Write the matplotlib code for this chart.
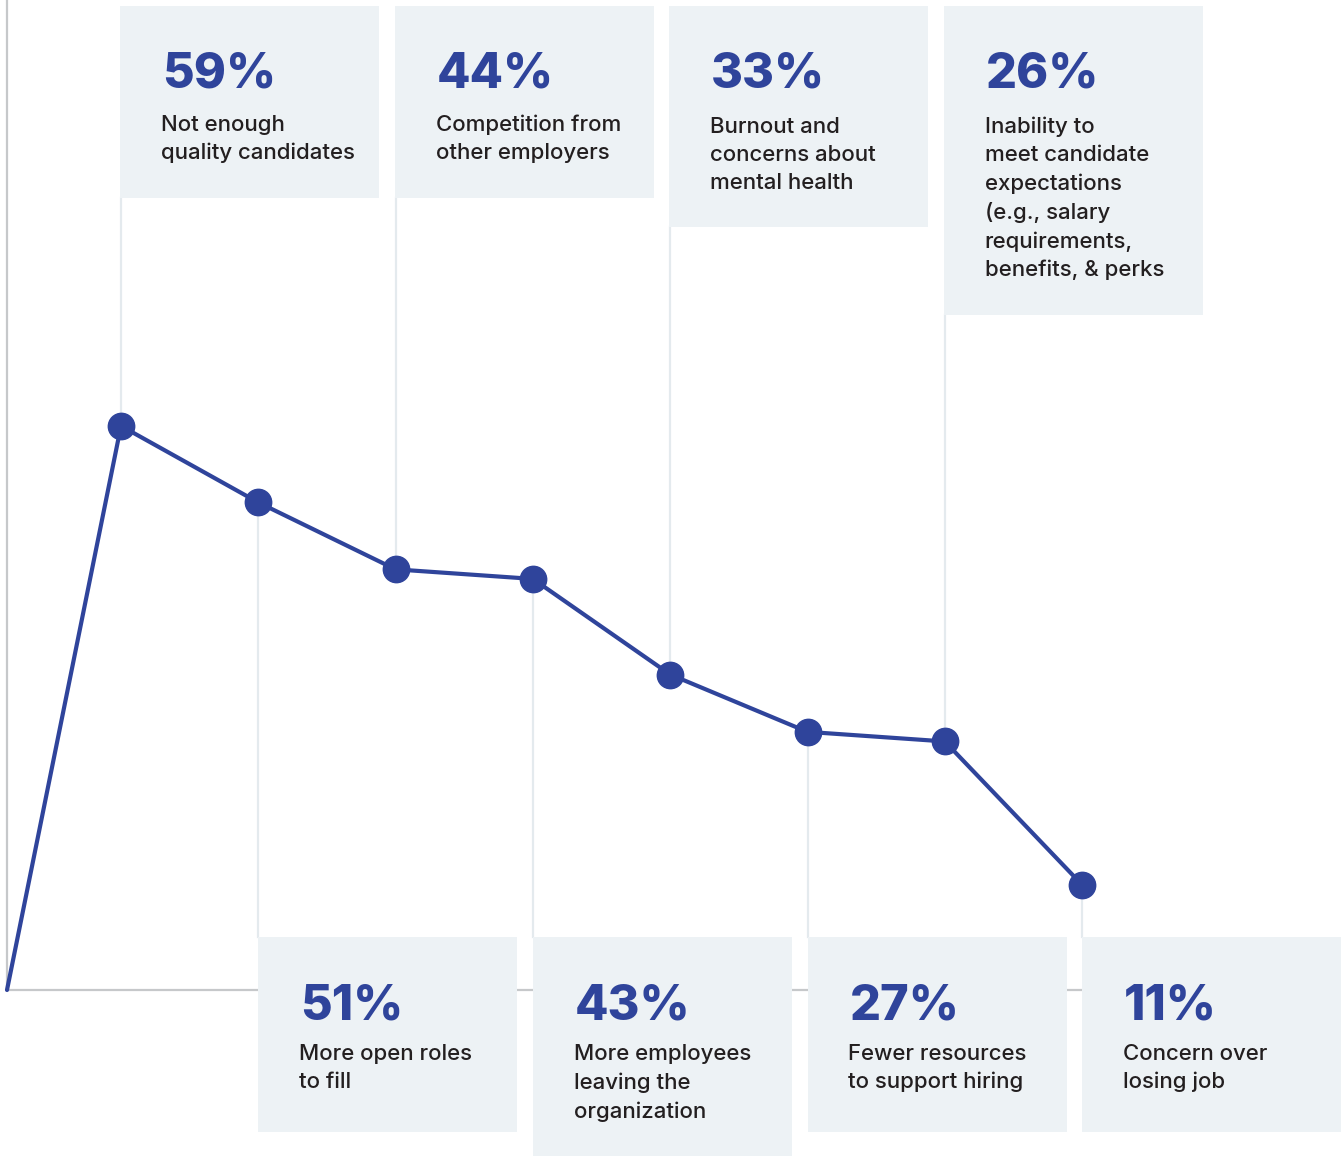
import numpy as np
import matplotlib.pyplot as plt
from matplotlib.patches import Rectangle

# data
shares = [59, 51, 44, 43, 33, 27, 26, 11]
pct_labels = ["59%", "51%", "44%", "43%", "33%", "27%", "26%", "11%"]
reasons = [
    "Not enough\nquality candidates",
    "More open roles\nto fill",
    "Competition from\nother employers",
    "More employees\nleaving the\norganization",
    "Burnout and\nconcerns about\nmental health",
    "Fewer resources\nto support hiring",
    "Inability to\nmeet candidate\nexpectations\n(e.g., salary\nrequirements,\nbenefits, & perks",
    "Concern over\nlosing job",
]

BLUE = "#2f449b"
BOX = "#edf2f5"
GUIDE = "#e4eaee"
AXIS = "#c6c8ca"
TEXT = "#231f20"

W, H = 1343, 1156
k = 9.56          # pixels per percentage point
base = 990        # pixel row of 0 %
x0 = 7
step = 137.3
xs = [121 + step * i for i in range(len(shares))]


def py(p):
    # pixel row (from top) -> data y
    return (base - p) / k


fig = plt.figure(figsize=(W / 100, H / 100), dpi=100)
ax = fig.add_axes([0, 0, 1, 1])
ax.set_xlim(0, W)
ax.set_ylim(py(H), py(0))
ax.axis("off")

# axes lines
ax.plot([x0, x0], [0, py(0)], color=AXIS, lw=1.6, zorder=1, solid_capstyle="butt")
ax.plot([x0, xs[-1]], [0, 0], color=AXIS, lw=1.6, zorder=1, solid_capstyle="butt")

line_h = 29.3
for i, (x, v) in enumerate(zip(xs, shares)):
    n = reasons[i].count("\n") + 1
    top = i % 2 == 0
    if top:
        bx = x - 1
        b_top = 6
        b_bot = 198 + (n - 2) * line_h
        ax.plot([x, x], [v, py(b_bot)], color=GUIDE, lw=1.6, zorder=1)
        pct_y = b_top + 82
        lab_y = b_top + 124
    else:
        bx = x
        b_top = 937
        b_bot = 1132 + (n - 2) * line_h
        ax.plot([x, x], [v, py(b_top)], color=GUIDE, lw=1.6, zorder=1)
        pct_y = b_top + 82
        lab_y = b_top + 122
    ax.add_patch(Rectangle((bx, py(b_bot)), 259, (b_bot - b_top) / k,
                           facecolor=BOX, edgecolor="none", zorder=2))
    ax.text(bx + 42, py(pct_y), pct_labels[i], fontsize=35, fontweight="heavy",
            family="Inter", color=BLUE, va="baseline", ha="left", zorder=3)
    # multi-line baseline sits on the last line
    ax.text(bx + 41, py(lab_y + (n - 1) * line_h), reasons[i], fontsize=16,
            fontweight="medium", family="Inter", color=TEXT, va="baseline",
            ha="left", linespacing=1.5, zorder=3)

# the line itself
ax.plot([x0] + xs, [0] + shares, color=BLUE, lw=3, zorder=4, solid_capstyle="round")
ax.plot(xs, shares, "o", color=BLUE, ms=19, zorder=5)

plt.savefig("out.png", dpi=100)
